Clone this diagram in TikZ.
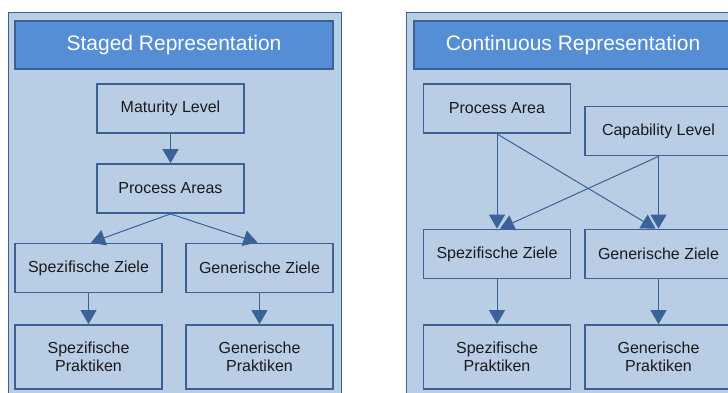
\documentclass[tikz,border=0pt]{standalone}
\usepackage{fontspec}
\setmainfont{Liberation Sans}
\usetikzlibrary{arrows.meta,calc}
\definecolor{panelfill}{HTML}{B9CDE5}
\definecolor{edgeblue}{HTML}{3A6296}
\definecolor{titlefill}{HTML}{558ED5}
\definecolor{textdark}{HTML}{1A1A1A}
\begin{document}
\begin{tikzpicture}[x=1pt,y=-1pt,
  panel/.style={draw=edgeblue,line width=1pt,fill=panelfill},
  titlebar/.style={draw=edgeblue,line width=2pt,fill=titlefill,text=white,
    font=\fontsize{21}{24}\selectfont,inner sep=0pt,
    minimum width=318pt,minimum height=48pt},
  box/.style={draw=edgeblue,line width=1.8pt,fill=panelfill,text=textdark,
    font=\fontsize{16}{18}\selectfont,align=center,inner sep=0pt,
    minimum width=147pt,minimum height=49pt},
  tallbox/.style={box,minimum height=64pt},
  link/.style={draw=edgeblue,line width=1pt,-{Triangle[length=14pt,width=16pt]}}]

\useasboundingbox (0,0) rectangle (728,392);

% Staged representation panel
\draw[panel] (8,12) rectangle (341,400);
\node[titlebar] (ttl1) at (174,45) {Staged Representation};
\node[box] (ml) at (170.5,108.5) {Maturity Level};
\node[box] (pa) at (170.5,188.5) {Process Areas};
\node[box] (sz) at (88.5,268) {Spezifische Ziele};
\node[box] (gz) at (259.5,268) {Generische Ziele};
\node[tallbox] (sp) at (88.5,357) {Spezifische\\Praktiken};
\node[tallbox] (gp) at (259.5,357) {Generische\\Praktiken};

\draw[link] (ml) -- (pa);
\draw[link] (pa.south) -- ($(sz.north)+(2.5,0)$);
\draw[link] (pa.south) -- ($(gz.north)+(-2,0)$);
\draw[link] (sz) -- (sp);
\draw[link] (gz) -- (gp);

% Continuous representation panel
\draw[panel] (406,12) rectangle (739,400);
\node[titlebar] (ttl2) at (573,45) {Continuous Representation};
\node[box] (pa2) at (497,108.5) {Process Area};
\node[box] (cl) at (658.5,131) {Capability Level};
\node[box] (sz2) at (497,254) {Spezifische Ziele};
\node[box] (gz2) at (658.5,254) {Generische Ziele};
\node[tallbox] (sp2) at (497,357) {Spezifische\\Praktiken};
\node[tallbox] (gp2) at (658.5,357) {Generische\\Praktiken};

\draw[link] (pa2.south) -- (sz2.north);
\draw[link] (pa2.south) -- ($(gz2.north)+(-3,0)$);
\draw[link] (cl.south) -- (gz2.north);
\draw[link] (cl.south) -- ($(sz2.north)+(3,0)$);
\draw[link] (sz2) -- (sp2);
\draw[link] (gz2) -- (gp2);

\end{tikzpicture}
\end{document}
